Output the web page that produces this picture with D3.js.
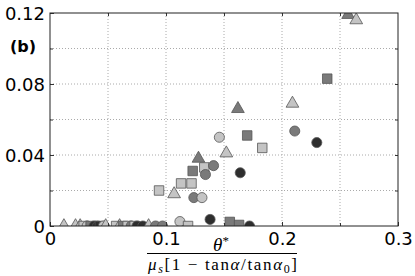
<!DOCTYPE html>
<html>
<head>
<meta charset="utf-8">
<script src="https://cdn.jsdelivr.net/npm/d3@7"></script>
<style>
  body { margin: 0; background: #fff; }
  svg { display: block; }
  .tick text { font-family: "DejaVu Sans", sans-serif; font-size: 18px; fill: #000; }
  .grid line { stroke: #aaa; stroke-dasharray: 1,2; }
</style>
</head>
<body>
<svg id="chart" width="415" height="276"></svg>
<script>
// Data points
var pointX = [0.257, 0.264, 0.239, 0.209, 0.211, 0.230, 0.162, 0.146, 0.170, 0.183,
              0.152, 0.128, 0.133, 0.141, 0.123, 0.134, 0.164, 0.113, 0.122, 0.094,
              0.107, 0.124, 0.131, 0.138, 0.112, 0.119, 0.155, 0.163, 0.172,
              0.012, 0.022, 0.026, 0.029, 0.032, 0.035, 0.038, 0.041, 0.043, 0.046,
              0.048, 0.057, 0.060, 0.063, 0.067, 0.070, 0.073, 0.075, 0.080, 0.085,
              0.091, 0.097];
var pointY = [0.119, 0.116, 0.083, 0.069, 0.0535, 0.047, 0.066, 0.050, 0.051, 0.044,
              0.041, 0.038, 0.033, 0.034, 0.031, 0.029, 0.030, 0.024, 0.024, 0.020,
              0.018, 0.016, 0.016, 0.0037, 0.0025, 0.0, 0.0023, 0.0006, 0.0,
              0, 0, 0, 0, 0, 0, 0, 0, 0, 0,
              0, 0, 0, 0, 0, 0, 0, 0, 0, 0,
              0, 0];
var pointShape = ["tri", "tri", "sq", "tri", "circ", "circ", "tri", "circ", "sq", "sq",
                  "tri", "tri", "sq", "circ", "sq", "circ", "circ", "sq", "sq", "sq",
                  "tri", "circ", "circ", "circ", "circ", "sq", "sq", "sq", "circ",
                  "tri", "tri", "tri", "sq", "circ", "sq", "circ", "circ", "sq", "circ",
                  "tri", "sq", "tri", "sq", "sq", "circ", "sq", "circ", "circ", "tri",
                  "circ", "circ"];
var pointShade = ["med", "light", "med", "light", "med", "dark", "med", "light", "med", "light",
                  "light", "med", "light", "med", "med", "med", "dark", "light", "light", "light",
                  "light", "med", "light", "dark", "light", "light", "med", "med", "dark",
                  "light", "light", "light", "light", "light", "med", "dark", "dark", "dark", "light",
                  "light", "light", "light", "med", "light", "med", "light", "dark", "dark", "light",
                  "med", "med"];

var xTicks = [0, 0.1, 0.2, 0.3];
var yTicks = [0, 0.04, 0.08, 0.12];
var xGrid = [0.05, 0.1, 0.15, 0.2, 0.25];
var yGrid = [0.02, 0.04, 0.06, 0.08, 0.1];

var svg = d3.select("#chart");
var margin = {top: 13, left: 50, bottom: 50, right: 17};
var width = 415 - margin.left - margin.right;
var height = 276 - margin.top - margin.bottom;

var xScale = d3.scaleLinear().domain([0, 0.3]).range([0, width]);
var yScale = d3.scaleLinear().domain([0, 0.12]).range([height, 0]);

var colors = {light: "#c4c4c4", med: "#7a7a7a", dark: "#2e2e2e"};

var g = svg.append("g").attr("transform", "translate(" + [margin.left, margin.top] + ")");

svg.append("defs").append("clipPath").attr("id", "plotClip")
    .append("rect").attr("width", width).attr("height", height);

// grid
g.append("g").attr("class", "grid")
    .selectAll("line.gx").data(xGrid).enter().append("line")
    .attr("x1", d => xScale(d)).attr("x2", d => xScale(d))
    .attr("y1", 0).attr("y2", height);
g.append("g").attr("class", "grid")
    .selectAll("line.gy").data(yGrid).enter().append("line")
    .attr("x1", 0).attr("x2", width)
    .attr("y1", d => yScale(d)).attr("y2", d => yScale(d));

// points
var pts = d3.range(pointX.length).map(function(i) {
    return {x: pointX[i], y: pointY[i], shape: pointShape[i], shade: pointShade[i]};
});
var symbols = {circ: d3.symbolCircle, sq: d3.symbolSquare, tri: d3.symbolTriangle};
var sizes = {circ: 80, sq: 90, tri: 70};

g.append("g").attr("clip-path", "url(#plotClip)")
    .selectAll("path.pt").data(pts).enter().append("path")
    .attr("class", "pt")
    .attr("d", d => d3.symbol().type(symbols[d.shape]).size(sizes[d.shape])())
    .attr("transform", d => "translate(" + [xScale(d.x), yScale(d.y)] + ")")
    .attr("fill", d => colors[d.shade])
    .attr("stroke", "#555")
    .attr("stroke-width", 0.8);

// axes
var fmtX = d => d === 0 ? "0" : d3.format(".1f")(d);
var fmtY = d => d === 0 ? "0" : d3.format(".2f")(d);

var xAxisG = g.append("g").attr("transform", "translate(0," + height + ")")
    .call(d3.axisBottom(xScale).tickValues(xTicks).tickFormat(fmtX).tickSize(-4).tickPadding(6));
var yAxisG = g.append("g")
    .call(d3.axisLeft(yScale).tickValues(yTicks).tickFormat(fmtY).tickSize(-4).tickPadding(5));
g.append("g").call(d3.axisTop(xScale).tickValues(xGrid).tickFormat("").tickSize(-3));
g.append("g").attr("transform", "translate(0," + height + ")")
    .call(d3.axisBottom(xScale).tickValues([0.05, 0.15, 0.25]).tickFormat("").tickSize(-3));
g.append("g").attr("transform", "translate(" + width + ",0)")
    .call(d3.axisRight(yScale).tickValues(yGrid).tickFormat("").tickSize(-3));
g.append("g").call(d3.axisLeft(yScale).tickValues([0.02, 0.06, 0.1]).tickFormat("").tickSize(-3));
g.selectAll(".domain").remove();
g.selectAll(".tick line").attr("stroke", "#333");

xAxisG.selectAll(".tick text").attr("dy", "0.71em");
// the first y label sits a bit lower like the reference
yAxisG.selectAll(".tick text").attr("dy", "0.36em");

// frame
g.append("rect").attr("width", width).attr("height", height)
    .attr("fill", "none").attr("stroke", "#222").attr("stroke-width", 1);

// panel label
svg.append("text").attr("x", 23).attr("y", 52).attr("text-anchor", "middle")
    .style("font-family", "DejaVu Sans, sans-serif").style("font-weight", "bold")
    .style("font-size", "16px").text("(b)");

// x label as a fraction
var serif = "Liberation Serif, DejaVu Serif, serif";
svg.append("text").attr("x", 221).attr("y", 251).attr("text-anchor", "middle")
    .style("font-family", serif).style("font-size", "19px")
    .html('<tspan font-style="italic">θ</tspan><tspan dy="-6" font-size="13px">*</tspan>');
svg.append("line").attr("x1", 147).attr("x2", 297).attr("y1", 253.5).attr("y2", 253.5)
    .attr("stroke", "#000").attr("stroke-width", 1.2);
svg.append("text").attr("x", 148).attr("y", 270)
    .attr("textLength", 149).attr("lengthAdjust", "spacing")
    .style("font-family", serif).style("font-size", "17px")
    .html('<tspan font-style="italic">μ</tspan><tspan font-style="italic" font-size="12px" dy="3">s</tspan>' +
          '<tspan dy="-3">[1 − tan</tspan><tspan font-style="italic">α</tspan><tspan>/tan</tspan>' +
          '<tspan font-style="italic">α</tspan><tspan font-size="12px" dy="3">0</tspan><tspan dy="-3">]</tspan>');
</script>
</body>
</html>
